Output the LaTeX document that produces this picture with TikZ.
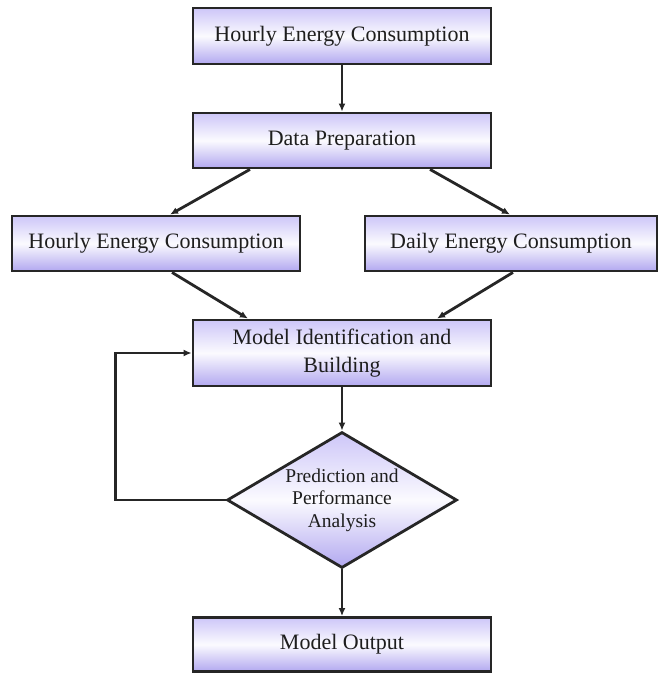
\documentclass[tikz,border=0pt]{standalone}
\usepackage{fontspec}
\setmainfont{Liberation Serif}
\usetikzlibrary{shapes.geometric,arrows.meta}
\definecolor{lavtop}{RGB}{205,198,248}
\definecolor{lavbot}{RGB}{178,168,240}
\definecolor{txt}{RGB}{30,30,30}
\tikzset{
  box/.style={draw=black!85, line width=2.8pt, top color=lavtop, bottom color=lavbot, middle color=white!92!lavtop,
    inner sep=0pt, text=txt, align=center, font=\fontsize{22}{28}\selectfont},
  dia/.style={diamond, shape aspect=1.69, draw=black!85, line width=2.8pt, top color=lavtop, bottom color=lavbot, middle color=white!92!lavtop,
    inner sep=0pt, text=txt, align=center, font=\fontsize{19.5}{22.5}\selectfont,
    minimum width=230pt, minimum height=136pt},
  arr/.style={draw=black!85, line width=2.8pt, -{Latex[length=8pt,width=7pt]}},
}
\begin{document}
\begin{tikzpicture}[x=1pt,y=-1pt]
\useasboundingbox (0,0) rectangle (670,673);
\node[box, minimum width=298pt, minimum height=56pt] (b1) at (342,36) {Hourly Energy Consumption};
\node[box, minimum width=298pt, minimum height=55pt] (b2) at (342,140.5) {Data Preparation};
\node[box, minimum width=288pt, minimum height=55pt] (b3) at (156,243.5) {Hourly Energy Consumption};
\node[box, minimum width=292pt, minimum height=55pt] (b4) at (511,243.5) {Daily Energy Consumption};
\node[box, minimum width=298pt, minimum height=66pt] (b5) at (342,353) {Model Identification and\\Building};
\node[dia] (d) at (342,500) {Prediction and\\Performance\\Analysis};
\node[box, minimum width=298pt, minimum height=54pt] (b6) at (342,644.5) {Model Output};

\draw[arr] (b1.south) -- (b2.north);
\draw[arr] ([xshift=-92pt]b2.south) -- ([xshift=14pt]b3.north);
\draw[arr] ([xshift=88pt]b2.south) -- ([xshift=-1pt]b4.north);
\draw[arr] ([xshift=16pt]b3.south) -- ([xshift=-94pt]b5.north);
\draw[arr] ([xshift=2pt]b4.south) -- ([xshift=95pt]b5.north);
\draw[arr] (b5.south) -- (d.north);
\draw[arr] (d.south) -- (b6.north);
\draw[arr] (d.west) -- ++(-110,0) |- (b5.west);
\end{tikzpicture}
\end{document}
